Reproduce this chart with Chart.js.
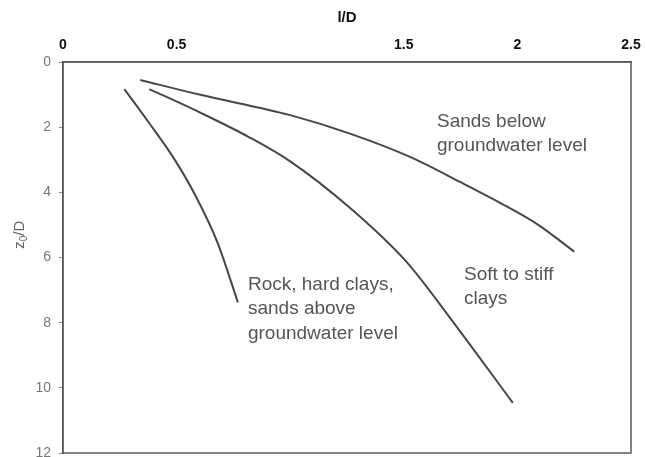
<!DOCTYPE html>
<html>
<head>
<meta charset="utf-8">
<script src="https://cdn.jsdelivr.net/npm/chart.js@4/dist/chart.umd.min.js"></script>
<style>
  html, body { margin: 0; padding: 0; background: #fff; }
  #wrap { width: 645px; height: 457px; }
</style>
</head>
<body>
<div id="wrap"><canvas id="c" width="645" height="457"></canvas></div>
<script>
// l/D (horizontal) against z0/D (depth, downward) for three ground types
const sandsX = [0.34, 0.60, 1.00, 1.26, 1.53, 1.75, 1.92, 2.09, 2.25];
const sandsZ = [0.55, 1.00, 1.63, 2.19, 2.92, 3.69, 4.31, 4.99, 5.82];

const softX = [0.38, 0.60, 0.82, 1.00, 1.26, 1.51, 1.70, 1.98];
const softZ = [0.83, 1.54, 2.31, 3.05, 4.46, 6.12, 7.82, 10.46];

const rockX = [0.27, 0.38, 0.49, 0.58, 0.68, 0.77];
const rockZ = [0.83, 1.88, 2.98, 4.06, 5.54, 7.38];

const xTicks = [0, 0.5, 1, 1.5, 2, 2.5];
const xTickShown = ['0', '0.5', '', '1.5', '2', '2.5'];
const yTicks = [0, 2, 4, 6, 8, 10, 12];

const seriesNames = ['Sands below groundwater level', 'Soft to stiff clays', 'Rock, hard clays, sands above groundwater level'];

// curve captions, anchored in data units (left edge, first line)
const captions = [
  { lines: ['Sands below', 'groundwater level'], x: 1.646, z: 1.82 },
  { lines: ['Soft to stiff', 'clays'], x: 1.765, z: 6.52 },
  { lines: ['Rock, hard clays,', 'sands above', 'groundwater level'], x: 0.814, z: 6.83 }
];

const FONT = "'Liberation Sans', Arial, sans-serif";
const pts = (xs, zs) => xs.map((v, i) => ({ x: v, y: zs[i] }));

function curve(label, xs, zs) {
  return {
    label,
    data: pts(xs, zs),
    showLine: true,
    borderColor: '#474747',
    borderWidth: 2,
    pointRadius: 0,
    cubicInterpolationMode: 'monotone',
    fill: false
  };
}

const frameAndText = {
  id: 'frameAndText',
  afterDraw(chart) {
    const { ctx, chartArea: a, scales } = chart;
    ctx.save();
    // plot frame
    ctx.strokeStyle = '#5a5a5a';
    ctx.lineWidth = 1.5;
    ctx.strokeRect(a.left, a.top, a.right - a.left, a.bottom - a.top);

    // captions
    ctx.fillStyle = '#555';
    ctx.font = '19px ' + FONT;
    ctx.textAlign = 'left';
    ctx.textBaseline = 'middle';
    captions.forEach(c => {
      const px = scales.x.getPixelForValue(c.x);
      const py = scales.y.getPixelForValue(c.z);
      c.lines.forEach((t, i) => ctx.fillText(t, px, py + i * 24.5));
    });

    // vertical axis title z0/D
    ctx.translate(20, scales.y.getPixelForValue(5.3));
    ctx.rotate(-Math.PI / 2);
    ctx.fillStyle = '#666';
    ctx.textBaseline = 'middle';
    ctx.font = '15px ' + FONT;
    const wZ = ctx.measureText('z').width;
    ctx.font = '10px ' + FONT;
    const w0 = ctx.measureText('0').width;
    ctx.font = '15px ' + FONT;
    const wD = ctx.measureText('/D').width;
    let sx = -(wZ + w0 + wD) / 2;
    ctx.fillText('z', sx, 0); sx += wZ;
    ctx.font = '10px ' + FONT;
    ctx.fillText('0', sx, 4); sx += w0;
    ctx.font = '15px ' + FONT;
    ctx.fillText('/D', sx, 0);
    ctx.restore();
  }
};

new Chart(document.getElementById('c'), {
  type: 'scatter',
  data: {
    datasets: [
      curve(seriesNames[0], sandsX, sandsZ),
      curve(seriesNames[1], softX, softZ),
      curve(seriesNames[2], rockX, rockZ)
    ]
  },
  options: {
    responsive: false,
    animation: false,
    layout: { padding: { left: 0, right: 14, top: 0, bottom: 4 } },
    plugins: { legend: { display: false }, tooltip: { enabled: false } },
    scales: {
      x: {
        type: 'linear',
        position: 'top',
        min: 0, max: 2.5,
        afterBuildTicks: s => { s.ticks = xTicks.map(v => ({ value: v })); },
        afterFit: s => { s.height = 62; s.paddingLeft = 0; s.paddingRight = 0; },
        grid: { display: true, drawOnChartArea: false, drawTicks: false, color: '#5a5a5a' },
        border: { display: true, color: '#5a5a5a', width: 1.5 },
        ticks: {
          padding: 8,
          color: '#111',
          font: { family: FONT, size: 14, weight: 'bold' },
          callback: v => { const i = xTicks.indexOf(v); return i >= 0 ? xTickShown[i] : ''; }
        },
        title: {
          display: true,
          text: 'l/D',
          color: '#111',
          font: { family: FONT, size: 15, weight: 'bold' },
          padding: { top: 9, bottom: 0 }
        }
      },
      y: {
        type: 'linear',
        reverse: true,
        min: 0, max: 12,
        afterBuildTicks: s => { s.ticks = yTicks.map(v => ({ value: v })); },
        afterFit: s => { s.width = 63; s.paddingTop = 0; s.paddingBottom = 0; },
        grid: { display: true, drawOnChartArea: false, drawTicks: true, tickLength: 4, color: '#888' },
        border: { display: true, color: '#5a5a5a', width: 1.5 },
        ticks: {
          padding: 8,
          color: '#777',
          font: { family: FONT, size: 14 }
        }
      }
    }
  },
  plugins: [frameAndText]
});
</script>
</body>
</html>
